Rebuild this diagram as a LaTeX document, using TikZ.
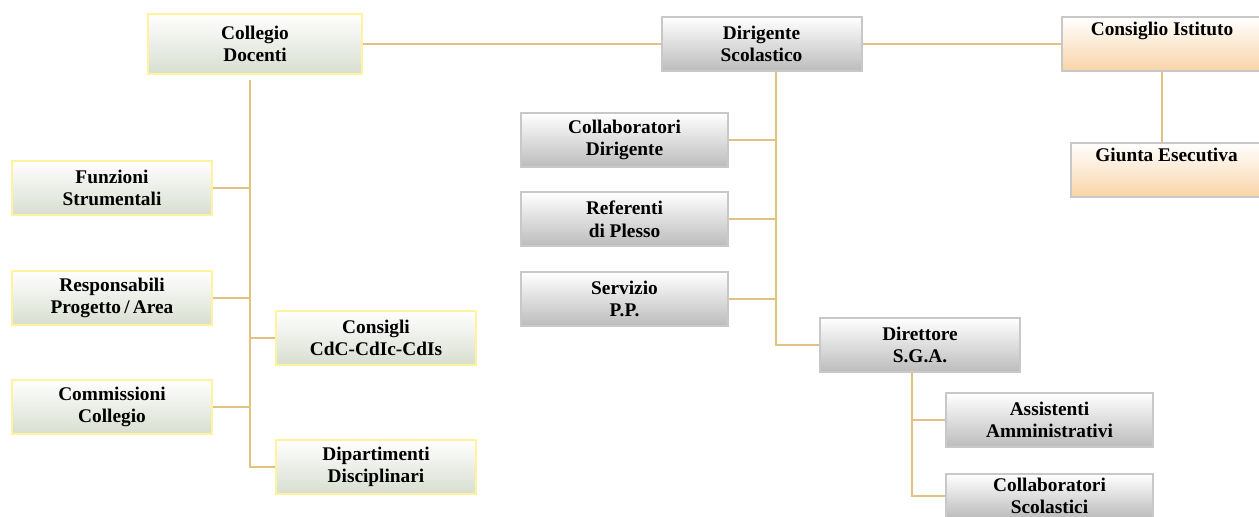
\documentclass[tikz,border=0pt]{standalone}
\usepackage{fontspec}
\setmainfont{Liberation Serif}
\usepackage{tikz}
\usetikzlibrary{positioning,calc}
\definecolor{linkcolor}{RGB}{226,194,126}
\definecolor{greenbottom}{RGB}{216,222,208}
\definecolor{greenborder}{RGB}{255,243,158}
\definecolor{graybottom}{RGB}{188,188,188}
\definecolor{grayborder}{RGB}{200,200,200}
\definecolor{orangebottom}{RGB}{249,212,168}

\begin{document}
\begin{tikzpicture}[x=0.75pt,y=-0.75pt,
    orgbox/.style={rectangle, align=center, inner sep=0pt, line width=1.5pt,
        font=\fontsize{14.5}{17}\selectfont\bfseries,
        minimum width=150pt, minimum height=40.5pt},
    greenbox/.style={orgbox, draw=greenborder, top color=white, bottom color=greenbottom},
    graybox/.style={orgbox, draw=grayborder, top color=white, bottom color=graybottom},
    orangebox/.style={orgbox, draw=grayborder, top color=white, bottom color=orangebottom},
    link/.style={draw=linkcolor, line width=1.2pt}]
    \useasboundingbox (0,0) rectangle (1259,517);

    % top row
    \node[greenbox, minimum width=160.5pt, minimum height=45pt] (collegio) at (255,44) {Collegio\\Docenti};
    \node[graybox] (dirigente) at (761.5,44) {Dirigente\\Scolastico};
    \node[orangebox] (consiglio) at (1162,44) {Consiglio Istituto\\\strut};
    \node[orangebox, minimum width=143pt] (giunta) at (1166.5,170) {Giunta Esecutiva\\\strut};

    % collegio branch
    \node[greenbox] (funzioni) at (112,188) {Funzioni\\Strumentali};
    \node[greenbox] (responsabili) at (112,298) {Responsabili\\Progetto\,/\,Area};
    \node[greenbox] (commissioni) at (112,407) {Commissioni\\Collegio};
    \node[greenbox] (consigli) at (376,338) {Consigli\\CdC-CdIc-CdIs};
    \node[greenbox] (dipartimenti) at (376,467) {Dipartimenti\\Disciplinari};

    % dirigente branch
    \node[graybox, minimum width=155pt] (collabdir) at (624.5,140) {Collaboratori\\Dirigente};
    \node[graybox, minimum width=155pt] (referenti) at (624.5,219) {Referenti\\di Plesso};
    \node[graybox, minimum width=155pt] (servizio) at (624.5,299) {Servizio\\P.P.};
    \node[graybox] (dsga) at (920,345) {Direttore\\S.G.A.};
    \node[graybox, minimum width=155pt] (assistenti) at (1049.5,420) {Assistenti\\Amministrativi};
    \node[graybox, minimum width=155pt, minimum height=33pt] (collabscol) at (1049.5,496) {Collaboratori\\Scolastici};

    \coordinate (trunkcd) at (250,80);
    \coordinate (trunkds) at (776,72);
    \coordinate (trunksga) at (912,373);

    \draw[link] (collegio) -- (dirigente);
    \draw[link] (dirigente) -- (consiglio);
    \draw[link] (consiglio) -- (giunta.north -| consiglio);

    \draw[link] (trunkcd) |- (dipartimenti.west);
    \draw[link] (funzioni.east) -- (funzioni.east -| trunkcd);
    \draw[link] (responsabili.east) -- (responsabili.east -| trunkcd);
    \draw[link] (commissioni.east) -- (commissioni.east -| trunkcd);
    \draw[link] (consigli.west) -- (consigli.west -| trunkcd);

    \draw[link] (trunkds) |- (dsga.west);
    \draw[link] (collabdir.east) -- (collabdir.east -| trunkds);
    \draw[link] (referenti.east) -- (referenti.east -| trunkds);
    \draw[link] (servizio.east) -- (servizio.east -| trunkds);

    \draw[link] (trunksga) |- (collabscol.west);
    \draw[link] (assistenti.west) -- (assistenti.west -| trunksga);
\end{tikzpicture}
\end{document}
